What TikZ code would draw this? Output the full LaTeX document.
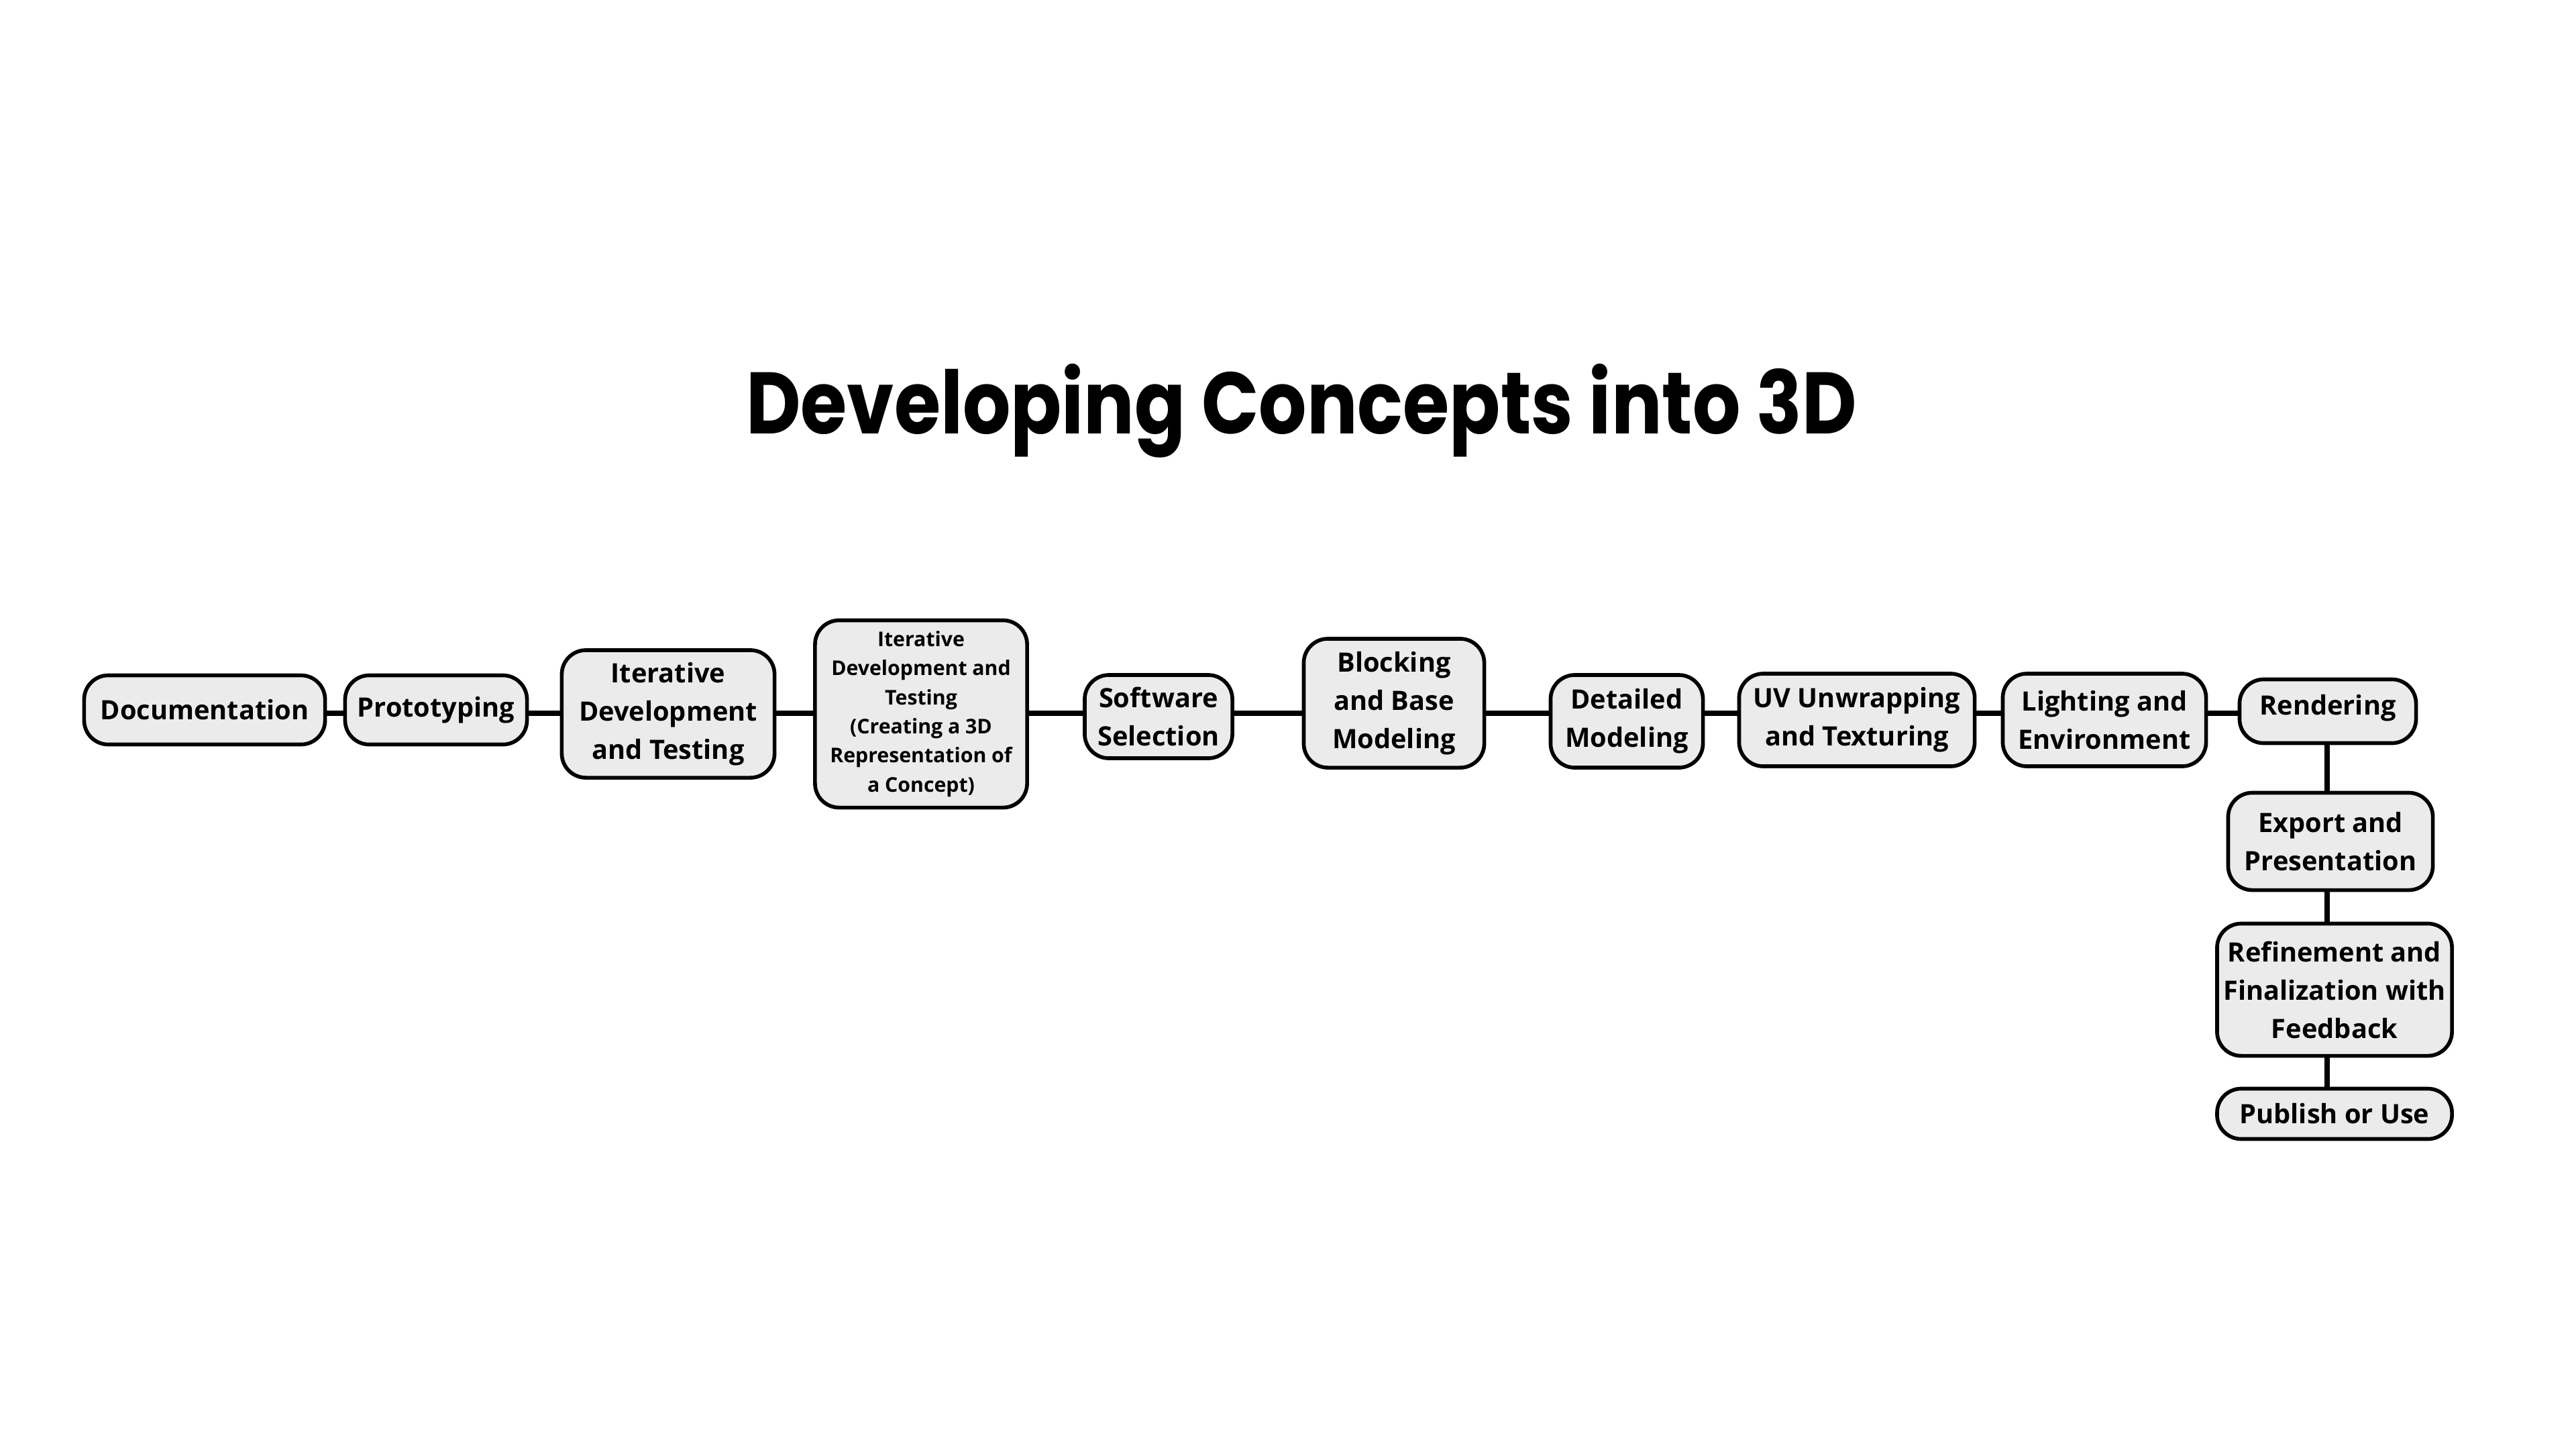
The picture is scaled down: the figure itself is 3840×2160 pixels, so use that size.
\documentclass[tikz,border=0pt]{standalone}
\usepackage{fontspec}
\setmainfont{Open Sans}[Ligatures=NoCommon]
\newfontfamily\titlefont{Poppins}
\usetikzlibrary{calc}
\definecolor{boxfill}{HTML}{EBEBEB}
\tikzset{
  stepbox/.style={draw=black, fill=boxfill, line width=1.6pt, rounded corners=0.36cm,
    inner sep=0pt, align=center, font=\fontsize{11.3}{16.2}\selectfont\bfseries},
  smallbox/.style={stepbox, font=\fontsize{8.6}{12.3}\selectfont\bfseries},
  link/.style={draw=black, line width=2.1pt},
}
\begin{document}
\begin{tikzpicture}[x=0.01cm, y=-0.01cm]
\useasboundingbox (0,0) rectangle (3840,2160);
\node[anchor=base, xscale=0.862, font=\titlefont\bfseries\fontsize{37}{40}\selectfont] (title) at (1940,646) {Developing Concepts into 3D};
\node[stepbox, minimum width=3.59cm, minimum height=1.03cm] (doc) at (305,1058) {Documentation};
\node[stepbox, minimum width=2.71cm, minimum height=1.03cm] (proto) at (650,1058) {Prototyping};
\node[stepbox, minimum width=3.17cm, minimum height=1.90cm] (itdev) at (996,1064) {Iterative\\Development\\and Testing};
\node[smallbox, minimum width=3.16cm, minimum height=2.79cm] (itdev2) at (1373,1064) {Iterative\\Development and\\Testing\\(Creating a 3D\\Representation of\\a Concept)};
\node[stepbox, minimum width=2.20cm, minimum height=1.24cm] (soft) at (1727,1068) {Software\\Selection};
\node[stepbox, minimum width=2.69cm, minimum height=1.92cm] (block) at (2078,1048) {Blocking\\and Base\\Modeling};
\node[stepbox, minimum width=2.27cm, minimum height=1.38cm] (detail) at (2425,1075) {Detailed\\Modeling};
\node[stepbox, minimum width=3.51cm, minimum height=1.38cm] (uv) at (2768,1073) {UV Unwrapping\\and Texturing};
\node[stepbox, minimum width=3.03cm, minimum height=1.38cm] (light) at (3137,1073) {Lighting and\\Environment};
\node[stepbox, minimum width=2.63cm, minimum height=0.95cm] (render) at (3470,1060) {\raisebox{0.2cm}{Rendering}};
\node[stepbox, minimum width=3.05cm, minimum height=1.45cm] (export) at (3474,1254) {Export and\\Presentation};
\node[stepbox, minimum width=3.50cm, minimum height=1.97cm] (refine) at (3480,1475) {Refinement and\\Finalization with\\Feedback};
\node[stepbox, minimum width=3.50cm, minimum height=0.75cm] (publish) at (3480,1660) {Publish or Use};
\coordinate (spine) at (0,1063);
\coordinate (vx) at (3469,0);
\foreach \a/\b in {doc/proto, proto/itdev, itdev/itdev2, itdev2/soft, soft/block, block/detail, detail/uv, uv/light, light/render} {
  \path[link] (\a.east |- spine) -- (\b.west |- spine);
}
\foreach \a/\b in {render/export, export/refine, refine/publish} {
  \path[link] (\a.south -| vx) -- (\b.north -| vx);
}
\end{tikzpicture}
\end{document}
